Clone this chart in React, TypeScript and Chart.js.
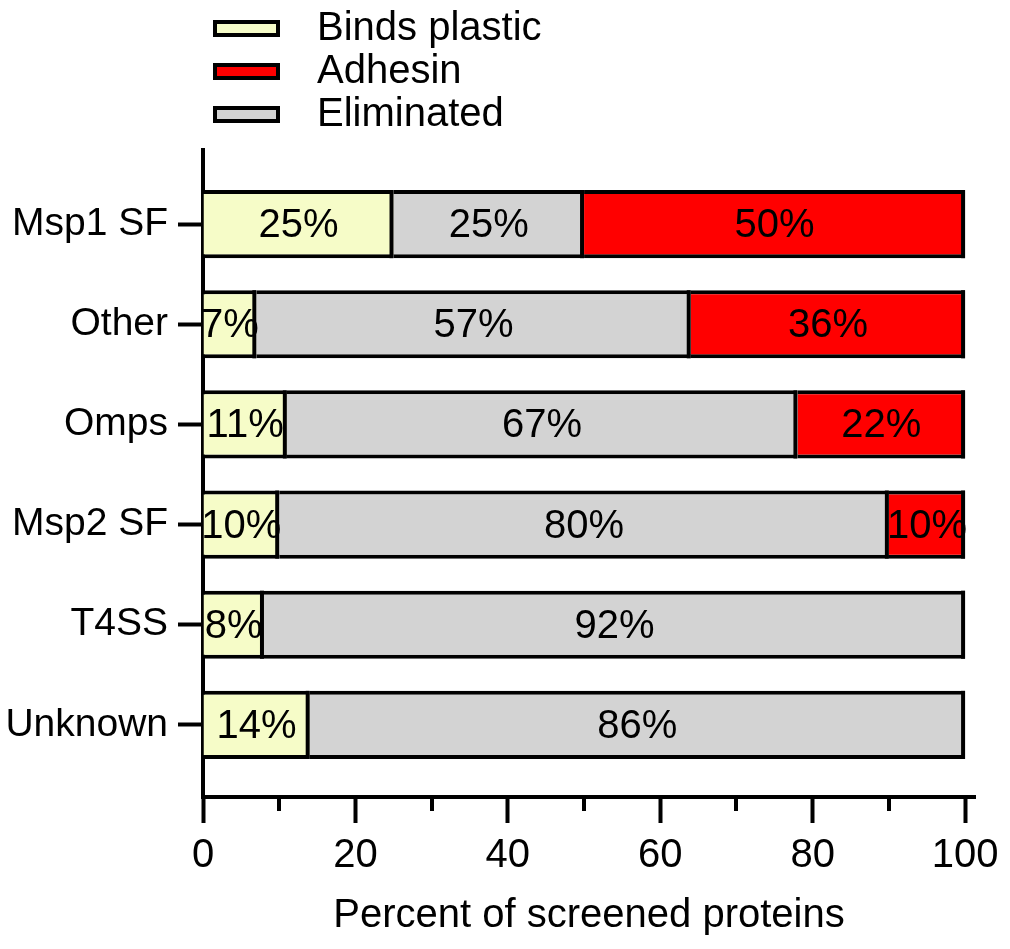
import React, { useEffect, useRef } from "react";
import { Chart, registerables } from "chart.js";

Chart.register(...registerables);

const categories = ["Msp1 SF", "Other", "Omps", "Msp2 SF", "T4SS", "Unknown"];
const bindsPlastic = [25, 7, 11, 10, 8, 14];
const eliminated = [25, 57, 67, 80, 92, 86];
const adhesin: (number | null)[] = [50, 36, 22, 10, null, null];
const xTickValues = [0, 20, 40, 60, 80, 100];
const xMinorTickValues = [10, 30, 50, 70, 90];
const legendOrder = ["Binds plastic", "Adhesin", "Eliminated"];
const axisTitle = "Percent of screened proteins";

const FONT = "'Liberation Sans', Arial, Helvetica, sans-serif";

const COLORS: Record<string, string> = {
  "Binds plastic": "#F6FCC8",
  Eliminated: "#D3D3D3",
  Adhesin: "#FF0000",
};

const toPoints = (vals: (number | null)[]) =>
  vals.map((v, i) => ({ x: v, y: i }));

const dividerPlugin = {
  id: "segmentDividers",
  afterDatasetsDraw(chart: any) {
    const { ctx } = chart;
    ctx.save();
    ctx.fillStyle = "#000";
    chart.data.datasets.forEach((ds: any, di: number) => {
      const meta = chart.getDatasetMeta(di);
      meta.data.forEach((el: any, i: number) => {
        const v = ds.data[i].x;
        if (v == null || v === 0) return;
        const h = el.height;
        ctx.fillRect(el.x - 4, el.y - h / 2, 4, h);
      });
    });
    ctx.restore();
  },
};

const barLabelPlugin = {
  id: "barLabels",
  afterDatasetsDraw(chart: any) {
    const { ctx } = chart;
    ctx.save();
    ctx.font = `40px ${FONT}`;
    ctx.fillStyle = "#000";
    ctx.textAlign = "center";
    ctx.textBaseline = "middle";
    chart.data.datasets.forEach((ds: any, di: number) => {
      const meta = chart.getDatasetMeta(di);
      meta.data.forEach((el: any, i: number) => {
        const v = ds.data[i].x;
        if (v == null || v === 0) return;
        const cx = (el.x + el.base) / 2;
        ctx.fillText(`${v}%`, cx, el.y + 2);
      });
    });
    ctx.restore();
  },
};

const minorTickPlugin = {
  id: "minorTicks",
  afterDraw(chart: any) {
    const { ctx } = chart;
    const xs = chart.scales.x;
    ctx.save();
    ctx.strokeStyle = "#000";
    ctx.lineWidth = 4;
    xMinorTickValues.forEach((v) => {
      const px = Math.round(xs.getPixelForValue(v));
      ctx.beginPath();
      ctx.moveTo(px, xs.top);
      ctx.lineTo(px, xs.top + 14);
      ctx.stroke();
    });
    ctx.restore();
  },
};

const legendPlugin = {
  id: "customLegend",
  afterDraw(chart: any) {
    const { ctx } = chart;
    ctx.save();
    ctx.font = `40px ${FONT}`;
    ctx.textAlign = "left";
    ctx.textBaseline = "middle";
    legendOrder.forEach((name, i) => {
      const cy = 28 + i * 43;
      ctx.fillStyle = COLORS[name];
      ctx.fillRect(214, cy - 7, 65, 15);
      ctx.strokeStyle = "#000";
      ctx.lineWidth = 4;
      ctx.strokeRect(215, cy - 6, 63, 13);
      ctx.fillStyle = "#000";
      ctx.fillText(name, 317, cy + 1);
    });
    ctx.restore();
  },
};

export default function App() {
  const ref = useRef<HTMLCanvasElement>(null);

  useEffect(() => {
    document.body.style.margin = "0";
    const mk = (label: string, vals: (number | null)[]) => ({
      label,
      data: toPoints(vals),
      backgroundColor: COLORS[label],
      borderColor: "#000",
      borderWidth: { top: 4, bottom: 4, right: 0, left: 0 },
      borderSkipped: false,
      inflateAmount: 0,
      barPercentage: 0.68,
      categoryPercentage: 1,
    });
    const chart = new Chart(ref.current!, {
      type: "bar",
      data: {
        datasets: [
          mk("Binds plastic", bindsPlastic),
          mk("Eliminated", eliminated),
          mk("Adhesin", adhesin),
        ],
      },
      options: {
        indexAxis: "y",
        animation: false,
        responsive: true,
        maintainAspectRatio: false,
        layout: { padding: { top: 150, right: 35, left: 0, bottom: 0 } },
        plugins: {
          legend: { display: false },
          tooltip: { enabled: false },
        },
        scales: {
          x: {
            type: "linear",
            stacked: true,
            min: 0,
            max: 101.3,
            offset: false,
            afterBuildTicks: (s: any) => {
              s.ticks = xTickValues.map((v) => ({ value: v }));
            },
            afterFit: (s: any) => {
              s.height = 152;
            },
            grid: {
              offset: false,
              drawOnChartArea: false,
              drawTicks: true,
              tickLength: 26,
              tickWidth: 4,
              tickColor: "#000",
            },
            border: { display: true, color: "#000", width: 4 },
            ticks: {
              color: "#000",
              font: { size: 40, family: FONT },
              padding: 9,
              maxRotation: 0,
            },
            title: {
              display: true,
              text: axisTitle,
              color: "#000",
              font: { size: 40, family: FONT },
              padding: { top: 4, bottom: 9 },
            },
          },
          y: {
            type: "linear",
            stacked: true,
            reverse: true,
            min: -0.74,
            max: 5.72,
            offset: false,
            afterBuildTicks: (s: any) => {
              s.ticks = categories.map((_, i) => ({ value: i }));
            },
            afterFit: (s: any) => {
              s.width = 203;
            },
            grid: {
              offset: false,
              drawOnChartArea: false,
              drawTicks: true,
              tickLength: 25,
              tickWidth: 4,
              tickColor: "#000",
            },
            border: { display: true, color: "#000", width: 4 },
            ticks: {
              color: "#000",
              font: { size: 39, family: FONT },
              padding: 10,
              callback: (v: any) => categories[v as number] ?? "",
            },
          },
        },
      },
      plugins: [dividerPlugin, barLabelPlugin, minorTickPlugin, legendPlugin],
    } as any);
    return () => chart.destroy();
  }, []);

  return (
    <div style={{ position: "relative", width: 1010, height: 949 }}>
      <canvas ref={ref} />
    </div>
  );
}
